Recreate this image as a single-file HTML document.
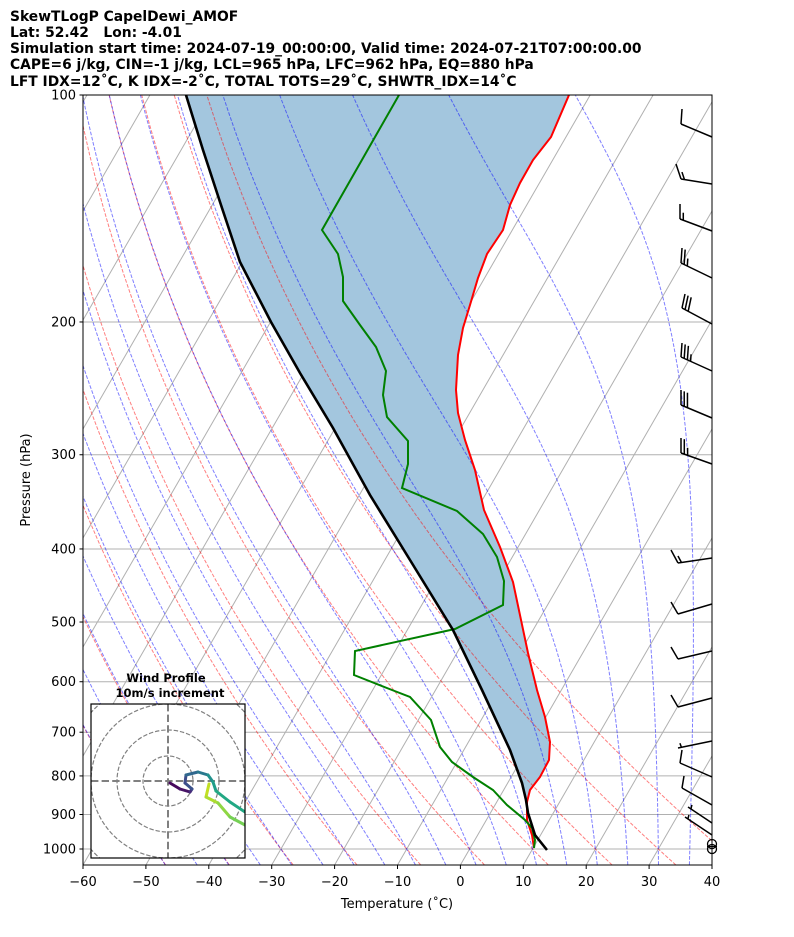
<!DOCTYPE html>
<html><head><meta charset="utf-8"><style>
body{margin:0;background:#fff;}
svg{display:block;font-family:"DejaVu Sans","Liberation Sans",sans-serif;}
</style></head><body>
<svg id="s" width="794" height="937" viewBox="0 0 794 937" xmlns="http://www.w3.org/2000/svg">
<defs><clipPath id="cp"><rect x="83" y="95" width="629" height="770"/></clipPath>
<clipPath id="hc"><rect x="91" y="704" width="154" height="154"/></clipPath></defs>
<rect width="794" height="937" fill="#fff"/>
<g id="plot" clip-path="url(#cp)"></g>
<g id="front"></g>
<g font-weight="bold" font-size="13.85" fill="#000" style="white-space:pre">
<text x="10" y="21">SkewTLogP CapelDewi_AMOF</text>
<text x="10" y="37" xml:space="preserve">Lat: 52.42   Lon: -4.01</text>
<text x="10" y="53">Simulation start time: 2024-07-19_00:00:00, Valid time: 2024-07-21T07:00:00.00</text>
<text x="10" y="69">CAPE=6 j/kg, CIN=-1 j/kg, LCL=965 hPa, LFC=962 hPa, EQ=880 hPa</text>
<text x="10" y="86">LFT IDX=12˚C, K IDX=-2˚C, TOTAL TOTS=29˚C, SHWTR_IDX=14˚C</text>
</g>
<text x="397" y="908" font-size="13" text-anchor="middle">Temperature (˚C)</text>
<text transform="translate(30,480) rotate(-90)" font-size="13" text-anchor="middle">Pressure (hPa)</text>
</svg>
<script>
var NS="http://www.w3.org/2000/svg";
var SK=0.577;
function Y(p){return 95+754*Math.log10(p/100);}
function X(T,p){return 83+(T+60)*6.29+SK*(865-Y(p));}
var plot=document.getElementById('plot'),front=document.getElementById('front');
function el(par,tag,at){var e=document.createElementNS(NS,tag);for(var k in at)e.setAttribute(k,at[k]);par.appendChild(e);return e;}
function pl(par,pts,at){at.points=pts.map(function(q){return q[0].toFixed(1)+','+q[1].toFixed(1)}).join(' ');at.fill=at.fill||'none';return el(par,'polyline',at);}
for(var T=-160;T<=60;T+=10){pl(plot,[[X(T,1050),Y(1050)],[X(T,100),Y(100)]],{stroke:'#b0b0b0','stroke-width':1});}
for(var p=100;p<=1000;p+=100){el(plot,'line',{x1:83,x2:712,y1:Y(p),y2:Y(p),stroke:'#b0b0b0','stroke-width':1});}
var blk=[[186,95],[203,150],[221,205],[240,262],[271,322],[300,373],[333,428],[370,495],[410,560],[453,630],[482,690],[510,750],[522,783],[526,800]];
var red=[[569,95],[551,137],[533,160],[520,183],[510,205],[503,230],[487,254],[478,278],[470,305],[463,328],[458,355],[456,390],[458,413],[465,440],[475,470],[484,510],[500,547],[513,582],[528,653],[537,690],[545,717],[550,742],[549,760],[540,777],[530,790],[527,802],[527,820],[532,835],[534,848]];
var shade=blk.concat(red.slice(0,26).reverse());
el(plot,'polygon',{points:shade.map(function(q){return q.join(',')}).join(' '),fill:'#a3c6de'});
function path(pts,at){return pl(plot,pts,at);}
for(var t0=-50;t0<=40;t0+=10){var pts=[];for(var p=1050;p>=100;p-=10){var T=(t0+273.15)*Math.pow(p/1000,0.2857)-273.15;pts.push([X(T,p),Y(p)]);}
path(pts,{stroke:'rgba(255,0,0,0.5)','stroke-width':1,'stroke-dasharray':'3.7,1.6'});}
var Rd=287.04749,Cp=1004.67,Lv=2.50084e6,eps=0.622;
function dTdp(T,p){var Tk=T+273.15;var es=6.112*Math.exp(17.67*T/(T+243.5));var rs=eps*es/Math.max(p-es,1);return (Rd*Tk+Lv*rs)/(Cp+Lv*Lv*rs*eps/(Rd*Tk*Tk))/p;}
for(var t0=-50;t0<=45;t0+=5){var pts=[];var dp=2;
var Td=t0;for(var q=1000;q<1050;q+=dp){Td+=dTdp(Td,q+dp/2)*dp;}
var Tc=t0;pts.push([X(Tc,1000),Y(1000)]);
for(var q=1000;q>100;q-=dp){var k1=dTdp(Tc,q),k2=dTdp(Tc-k1*dp/2,q-dp/2);Tc-=k2*dp;pts.push([X(Tc,q-dp),Y(q-dp)]);}
pts.unshift([X(Td,1050),Y(1050)]);
path(pts,{stroke:'rgba(0,0,255,0.5)','stroke-width':1,'stroke-dasharray':'3.7,1.6'});}
var green=[[399,95],[375,137],[322,230],[338,254],[343,277],[343,301],[360,325],[376,347],[386,371],[383,395],[387,417],[408,441],[408,464],[402,488],[457,511],[483,534],[497,557],[504,581],[503,605],[455,629],[355,651],[354,675],[392,690],[410,697],[431,720],[440,747],[452,762],[473,777],[493,790],[507,805],[525,820],[532,828],[535,840],[534,848]];
pl(plot,red,{stroke:'#f00','stroke-width':2});
pl(plot,green,{stroke:'#008000','stroke-width':2});
pl(plot,blk.concat([[528,813],[535,835],[547,850]]),{stroke:'#000','stroke-width':2.6});
el(front,'rect',{x:83,y:95,width:629,height:770,fill:'none',stroke:'#000','stroke-width':1});
for(var p=100;p<=1000;p+=100){var y=Y(p);el(front,'line',{x1:79.5,x2:83,y1:y,y2:y,stroke:'#000'});var t=el(front,'text',{x:76,y:y+4.5,'font-size':13,'text-anchor':'end'});t.textContent=p;}
for(var T=-60;T<=40;T+=10){var x=83+(T+60)*6.29;el(front,'line',{x1:x,x2:x,y1:865,y2:869,stroke:'#000'});var t=el(front,'text',{x:x,y:886,'font-size':13,'text-anchor':'middle'});t.textContent=(T<0?'\u2212'+(-T):T);}
var barbs=[[137,681,124,1,0,1,-15],[184,681,179,1,1,-5,-15],[231,680,219,1,1,0,-15],[278,681,263,2,1,1,-15],[324,682,308,3,0,3,-14],[371,681,357,3,1,1,-14],[418,681,405,3,0,0,-15],[464,681,453,2,1,0,-15],
[558,678,563,1,1,-7,-13],[604,678,614,1,0,-7,-12],[651,678,659,1,0,-7,-12],[698,678,707,1,0,-7,-12],[741,678,748,0,1,-3,-8],[777,680,763,1,0,2,-13],[805,682,788,1,0,2,-12],[823,688,807,0,1,2,-8],[835,685,817,0,1,2,-8]];
barbs.forEach(function(b){var sx=712,sy=b[0],tx=b[1],ty=b[2];el(front,'line',{x1:sx,y1:sy,x2:tx,y2:ty,stroke:'#000','stroke-width':1.5});
var L=Math.hypot(sx-tx,sy-ty),ux=(sx-tx)/L,uy=(sy-ty)/L;var i=0;
for(var k=0;k<b[3];k++){var px=tx+ux*i*3.5,py=ty+uy*i*3.5;el(front,'line',{x1:px,y1:py,x2:px+b[5],y2:py+b[6],stroke:'#000','stroke-width':1.5});i++;}
for(var k=0;k<b[4];k++){if(i==0)i=1;var px=tx+ux*i*3.5,py=ty+uy*i*3.5;el(front,'line',{x1:px,y1:py,x2:px+b[5]/2,y2:py+b[6]/2,stroke:'#000','stroke-width':1.5});i++;}});
el(front,'circle',{cx:712,cy:844,r:4.5,fill:'none',stroke:'#000','stroke-width':1.3});
el(front,'circle',{cx:712,cy:849,r:4.5,fill:'none',stroke:'#000','stroke-width':1.3});
el(front,'line',{x1:707,x2:717,y1:846.5,y2:846.5,stroke:'#000','stroke-width':1.2});
el(front,'rect',{x:91,y:704,width:154,height:154,fill:'#fff',stroke:'none'});
var hg=el(front,'g',{'clip-path':'url(#hc)'});
[25,51,77,103].forEach(function(r){el(hg,'circle',{cx:168,cy:781,r:r,fill:'none',stroke:'#808080','stroke-width':1.2,'stroke-dasharray':'4.4,1.9'});});
el(hg,'line',{x1:91,x2:245,y1:781,y2:781,stroke:'#808080','stroke-width':2,'stroke-dasharray':'7.4,3.2'});
el(hg,'line',{x1:168,x2:168,y1:704,y2:858,stroke:'#808080','stroke-width':2,'stroke-dasharray':'7.4,3.2'});
var h1=[[170,783,'#440154'],[180,789,'#46085c'],[190,792,'#471365'],[192,789,'#472d7b'],[185,783,'#3b528b'],[186,775,'#3e4c8a'],[198,772,'#31688e'],[208,775,'#2a788e'],[213,782,'#21918c'],[216,791,'#1f9e89'],[230,802,'#22a884'],[245,812,'#22a884']];
for(var i=1;i<h1.length;i++)el(hg,'line',{x1:h1[i-1][0],y1:h1[i-1][1],x2:h1[i][0],y2:h1[i][1],stroke:h1[i][2],'stroke-width':3,'stroke-linecap':'round'});
var h2=[[209,784,'#dde318'],[206,797,'#c2df23'],[218,803,'#addc30'],[230,817,'#8fd744'],[245,825,'#75d054']];
for(var i=1;i<h2.length;i++)el(hg,'line',{x1:h2[i-1][0],y1:h2[i-1][1],x2:h2[i][0],y2:h2[i][1],stroke:h2[i][2],'stroke-width':3,'stroke-linecap':'round'});
el(front,'rect',{x:91,y:704,width:154,height:154,fill:'none',stroke:'#000','stroke-width':1.2});
var t=el(front,'text',{x:166,y:682,'font-size':11.5,'font-weight':'bold','text-anchor':'middle'});t.textContent='Wind Profile';
t=el(front,'text',{x:170,y:697,'font-size':11.5,'font-weight':'bold','text-anchor':'middle'});t.textContent='10m/s increment';
</script>
</body></html>
